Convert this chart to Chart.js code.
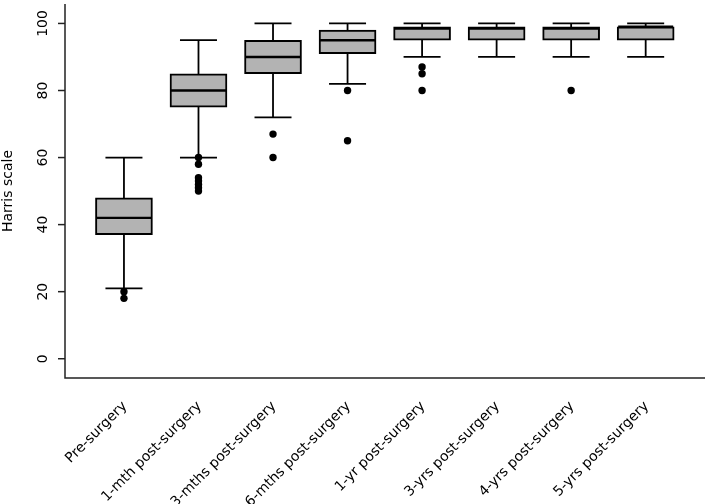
<!DOCTYPE html>
<html><head><meta charset="utf-8">
<script src="https://cdn.jsdelivr.net/npm/chart.js@4.4.1/dist/chart.umd.min.js"></script>
<style>html,body{margin:0;padding:0;background:#fff;overflow:hidden}</style></head>
<body><canvas id="c" width="709" height="504"></canvas>
<script>
const categories = ['Pre-surgery','1-mth post-surgery','3-mths post-surgery','6-mths post-surgery','1-yr post-surgery','3-yrs post-surgery','4-yrs post-surgery','5-yrs post-surgery'];
const whiskerLow  = [21, 60, 72, 82, 90, 90, 90, 90];
const q1          = [37, 75, 85, 91, 95, 95, 95, 95];
const median      = [42, 80, 90, 95, 98.5, 98.5, 98.5, 99];
const q3          = [48, 85, 95, 98, 99, 99, 99, 99];
const whiskerHigh = [60, 95, 100, 100, 100, 100, 100, 100];
const outliers    = [[20,18],[60,58,54,53,52,51,50],[67,60],[80,65],[87,85,80],[],[80],[]];
const yTicks = [0, 20, 40, 60, 80, 100];
const yTitle = 'Harris scale';

const FONT = '"DejaVu Sans", sans-serif';
const BOX_W = 57, CAP_W = 37;

const boxData = categories.map((c,i)=>({x:i+1, y:[q1[i], q3[i]]}));
const outData = [];
outliers.forEach((arr,i)=>arr.forEach(v=>outData.push({x:i+1, y:v})));

const extras = {
  id:'extras',
  beforeDatasetsDraw(chart){
    const {ctx, scales:{x,y}} = chart;
    ctx.save();
    ctx.strokeStyle='#000'; ctx.lineWidth=1.8;
    categories.forEach((c,i)=>{
      const px = x.getPixelForValue(i+1);
      ctx.beginPath();
      ctx.moveTo(px, y.getPixelForValue(whiskerHigh[i]));
      ctx.lineTo(px, y.getPixelForValue(whiskerLow[i]));
      ctx.stroke();
      [whiskerHigh[i], whiskerLow[i]].forEach(v=>{
        const py = y.getPixelForValue(v);
        ctx.beginPath(); ctx.moveTo(px-CAP_W/2, py); ctx.lineTo(px+CAP_W/2, py); ctx.stroke();
      });
    });
    ctx.restore();
  },
  afterDatasetsDraw(chart){
    const {ctx, scales:{x,y}} = chart;
    ctx.save();
    ctx.strokeStyle='#000'; ctx.lineWidth=2.4;
    categories.forEach((c,i)=>{
      const px = x.getPixelForValue(i+1);
      const py = y.getPixelForValue(median[i]);
      ctx.beginPath(); ctx.moveTo(px-BOX_W/2+1, py); ctx.lineTo(px+BOX_W/2-1, py); ctx.stroke();
    });
    ctx.restore();
  },
  afterDraw(chart){
    const {ctx, chartArea:a, scales:{x,y}} = chart;
    ctx.save();
    ctx.strokeStyle='#222'; ctx.lineWidth=1.5;
    ctx.beginPath(); ctx.moveTo(a.left, a.top); ctx.lineTo(a.left, a.bottom); ctx.lineTo(a.right, a.bottom); ctx.stroke();
    ctx.fillStyle='#000';
    ctx.font = '14px ' + FONT;
    ctx.textAlign='center'; ctx.textBaseline='middle';
    yTicks.forEach(v=>{
      const py = y.getPixelForValue(v);
      ctx.beginPath(); ctx.moveTo(a.left-7, py); ctx.lineTo(a.left, py); ctx.stroke();
      ctx.save(); ctx.translate(43, py); ctx.rotate(-Math.PI/2); ctx.fillText(String(v), 0, 0); ctx.restore();
    });
    ctx.save(); ctx.translate(8, (a.top+a.bottom)/2); ctx.rotate(-Math.PI/2); ctx.fillText(yTitle, 0, 0); ctx.restore();
    ctx.textAlign='right';
    categories.forEach((c,i)=>{
      const px = x.getPixelForValue(i+1);
      ctx.save(); ctx.translate(px+1, a.bottom+26); ctx.rotate(-Math.PI/4); ctx.fillText(c, 0, 0); ctx.restore();
    });
    ctx.restore();
  }
};

new Chart(document.getElementById('c'), {
  type:'bar',
  data:{datasets:[
    {type:'scatter', data:outData, pointRadius:3.7, pointBackgroundColor:'#000', pointBorderWidth:0, order:0},
    {type:'bar', data:boxData, backgroundColor:'#b3b3b3', borderColor:'#000', borderWidth:2, borderSkipped:false, barThickness:BOX_W, order:1}
  ]},
  options:{
    responsive:false, devicePixelRatio:1, animation:false,
    layout:{padding:0},
    plugins:{legend:{display:false}, tooltip:{enabled:false}},
    scales:{
      x:{type:'linear', offset:false, min:0.209, max:8.796, ticks:{display:false}, grid:{display:false}, border:{display:false},
         afterFit:s=>{s.height=126;}},
      y:{type:'linear', min:-5.75, max:105.8, ticks:{display:false}, grid:{display:false}, border:{display:false},
         afterFit:s=>{s.width=65;}}
    }
  },
  plugins:[extras]
});
</script></body></html>
